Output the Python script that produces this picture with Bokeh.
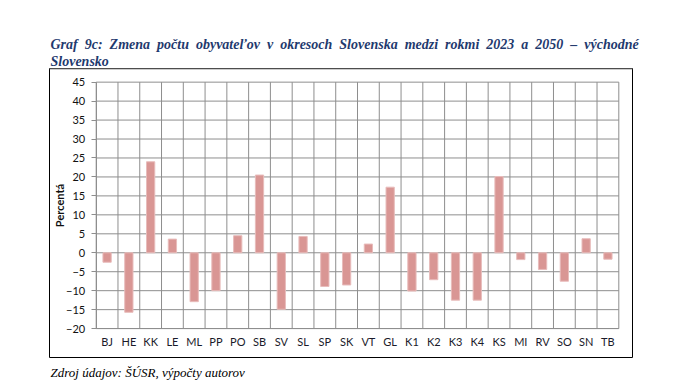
from bokeh.plotting import figure
from bokeh.models import Range1d, FixedTicker, Span, Title
from bokeh.embed import file_html
from bokeh.resources import INLINE

# District codes (eastern Slovakia) and projected population change 2023-2050, %
districts = ["BJ", "HE", "KK", "LE", "ML", "PP", "PO", "SB", "SV", "SL", "SP", "SK",
             "VT", "GL", "K1", "K2", "K3", "K4", "KS", "MI", "RV", "SO", "SN", "TB"]
change_pct = [-2.5, -15.7, 24.0, 3.6, -12.9, -10.0, 4.5, 20.5, -14.9, 4.3, -8.9, -8.5,
              2.3, 17.3, -10.1, -7.1, -12.5, -12.5, 20.1, -1.8, -4.4, -7.5, 3.7, -1.7]
y_ticks = [-20, -15, -10, -5, 0, 5, 10, 15, 20, 25, 30, 35, 40, 45]

title_line1 = "Graf 9c: Zmena počtu obyvateľov v okresoch Slovenska medzi rokmi 2023 a 2050 – východné"
title_line2 = "Slovensko"
source_note = "Zdroj údajov: ŠÚSR, výpočty autorov"

GRID = "#8e8e8e"
BAR_FILL = "#d99694"
BAR_EDGE = "#e8bcbb"
TITLE_BLUE = "#1f3a6e"
SANS = "Lato"
SERIF = "Liberation Serif"

W, H = 690, 384
# chart box (the plot frame) and the gridded area inside it, in pixels
BOX_L, BOX_R, BOX_T, BOX_B = 49, 632, 68, 358
GRID_L, GRID_R, GRID_T, GRID_B = 95.7, 618.3, 81.7, 329.0

n = len(districts)
idx = list(range(n))
y_lo, y_hi = y_ticks[0], y_ticks[-1]

# stretch the data ranges so the grid sits inside the box with room for the axes
ux = (GRID_R - GRID_L) / n
uy = (GRID_B - GRID_T) / (y_hi - y_lo)
x_start = -0.5 - (GRID_L - BOX_L) / ux
x_end = n - 0.5 + (BOX_R - GRID_R) / ux
y_start = y_lo - (BOX_B - GRID_B) / uy
y_end = y_hi + (GRID_T - BOX_T) / uy

p = figure(width=W, height=H, output_backend="svg", toolbar_location=None,
           x_range=Range1d(x_start, x_end), y_range=Range1d(y_start, y_end),
           min_border_left=BOX_L, min_border_right=W - BOX_R,
           min_border_top=BOX_T, min_border_bottom=H - BOX_B)

p.background_fill_color = "white"
p.border_fill_color = "white"
p.outline_line_color = "black"
p.outline_line_width = 1
p.xgrid.visible = False
p.ygrid.visible = False

# grid: horizontal at every y tick, vertical between the district columns
bounds = [i - 0.5 for i in range(n + 1)]
p.segment(x0=-0.5, y0=y_ticks, x1=n - 0.5, y1=y_ticks, line_color=GRID, line_width=1)
p.segment(x0=bounds, y0=y_lo, x1=bounds, y1=y_hi, line_color=GRID, line_width=1)

p.vbar(x=idx, top=change_pct, bottom=0, width=0.38,
       fill_color=BAR_FILL, line_color=BAR_EDGE, line_width=1)

# y axis pinned to the left edge of the grid
p.yaxis.fixed_location = -0.5
p.yaxis.bounds = (y_lo, y_hi)
p.yaxis.ticker = FixedTicker(ticks=y_ticks)
p.yaxis.axis_line_color = GRID
p.yaxis.major_tick_line_color = GRID
p.yaxis.major_tick_out = 5
p.yaxis.major_tick_in = 0
p.yaxis.minor_tick_line_color = None
p.yaxis.major_label_standoff = 6
p.yaxis.major_label_text_font = SANS
p.yaxis.major_label_text_font_size = "11px"
p.yaxis.major_label_text_color = "#111111"
p.yaxis.axis_label = "Percentá"
p.yaxis.axis_label_text_font = SANS
p.yaxis.axis_label_text_font_size = "11px"
p.yaxis.axis_label_text_font_style = "bold"
p.yaxis.axis_label_text_color = "#111111"
p.yaxis.axis_label_standoff = -3

# x axis pinned to the bottom of the grid, district codes under each column
p.xaxis.fixed_location = y_lo
p.xaxis.bounds = (-0.5, n - 0.5)
p.xaxis.ticker = FixedTicker(ticks=idx)
p.xaxis.major_label_overrides = {i: d for i, d in zip(idx, districts)}
p.xaxis.axis_line_color = GRID
p.xaxis.major_tick_line_color = None
p.xaxis.minor_tick_line_color = None
p.xaxis.major_label_standoff = 0
p.xaxis.major_label_text_font = SANS
p.xaxis.major_label_text_font_size = "11px"
p.xaxis.major_label_text_color = "#1a1a2a"

# grey top edge of the box
p.add_layout(Span(location=y_end, dimension="width", line_color="#9a9a9a", line_width=2))

# heading: first line is set justified, so its word gaps are widened
wide_gap = " \u00a0"
heading_rows = [wide_gap.join(title_line1.split(" ")), title_line2]

# the row nearest the box is added first
for text in reversed(heading_rows):
    p.add_layout(Title(text=text, align="left", offset=1, standoff=0,
                       text_font=SERIF, text_font_size="14px", text_font_style="bold italic",
                       text_color=TITLE_BLUE), "above")
p.add_layout(Title(text=source_note, align="left", offset=1, standoff=10,
                   text_font=SERIF, text_font_size="13px", text_font_style="italic",
                   text_color="black"), "below")

with open("out.html", "w") as f:
    f.write(file_html(p, INLINE))
